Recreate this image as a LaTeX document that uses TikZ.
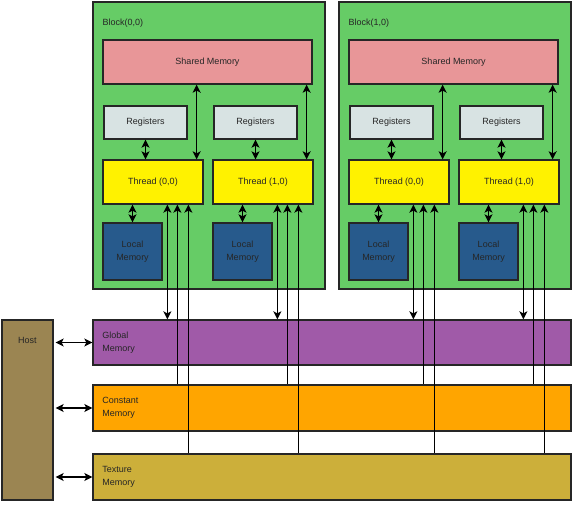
\documentclass[tikz,border=0pt]{standalone}
\usepackage{fontspec}
\setmainfont{Liberation Sans}
\usetikzlibrary{arrows.meta,calc,positioning}
\definecolor{blockgreen}{HTML}{66CC66}
\definecolor{sharedpink}{HTML}{E89698}
\definecolor{regcol}{HTML}{D8E3E3}
\definecolor{localblue}{HTML}{275A8C}
\definecolor{globalcol}{HTML}{A05AA8}
\definecolor{constcol}{HTML}{FFA500}
\definecolor{texcol}{HTML}{CCAF3A}
\definecolor{hostcol}{HTML}{9B8552}
\begin{document}
\begin{tikzpicture}[x=1pt,y=-1pt,line width=1.3pt,>={Stealth[length=8pt,width=8pt,inset=2pt]},
    font=\fontsize{9}{13.5}\selectfont,
    box/.style={draw=black!85,line width=1.3pt,inner sep=0pt,align=center,text=black!85},
    memlabel/.style={align=left,text=black!85}]
  \useasboundingbox (0,0) rectangle (573,510);
  % the two blocks
  \foreach \b in {0,1}{
    \begin{scope}[xshift=246*\b]
      \node[box,fill=blockgreen,minimum width=232,minimum height=287] (blk\b) at (209,145.5) {};
      \node[anchor=west,text=black!85,inner sep=0pt] (blab\b) at (102,23) {Block(\b,0)};
      \node[box,fill=sharedpink,minimum width=209,minimum height=44] (sh\b) at (207.5,62) {Shared Memory};
      \foreach \t in {0,1}{
        \begin{scope}[xshift=110*\t]
          \node[box,fill=regcol,minimum width=83,minimum height=33] (reg\b\t) at (145.5,122.5) {Registers};
          \node[box,fill=yellow,minimum width=100,minimum height=44] (thr\b\t) at (153,182) {Thread (\t,0)};
          \node[box,fill=localblue,minimum width=59,minimum height=57] (loc\b\t) at (132.5,251.5) {Local\\Memory};
        \end{scope}
      }
    \end{scope}
  }
  % memories and host
  \node[box,fill=globalcol,minimum width=478,minimum height=45] (glob) at (332,342.5) {};
  \node[box,fill=constcol,minimum width=478,minimum height=46] (const) at (332,408) {};
  \node[box,fill=texcol,minimum width=478,minimum height=46] (tex) at (332,477) {};
  \node[memlabel,right=6pt of glob.west] {Global\\Memory};
  \node[memlabel,right=6pt of const.west] {Constant\\Memory};
  \node[memlabel,right=6pt of tex.west] {Texture\\Memory};
  \node[box,fill=hostcol,minimum width=51,minimum height=180] (host) at (27.5,410) {};
  \node[text=black!85] at ($(host.north)+(0,21)$) {Host};
  \foreach \m in {glob,const,tex}
    \draw[<->,shorten <=2pt] (host.east |- \m.west) -- (\m.west);
  % connections
  \foreach \b in {0,1}{
    \foreach \t in {0,1}{
      \draw[<->] (reg\b\t.south) -- (reg\b\t.south |- thr\b\t.north);
      \draw[<->] (thr\b\t.south -| loc\b\t.north) -- (loc\b\t.north);
      \coordinate (s\b\t) at ($(thr\b\t.north east)+(-7,0)$);
      \draw[<->] (s\b\t) -- (s\b\t |- sh\b.south);
      \coordinate (g\b\t) at ($(thr\b\t.south west)+(65,0)$);
      \coordinate (c\b\t) at ($(thr\b\t.south west)+(75,0)$);
      \coordinate (x\b\t) at ($(thr\b\t.south west)+(86,0)$);
      \draw[<->] (g\b\t) -- (g\b\t |- glob.north);
      \draw[<-] (c\b\t) -- (c\b\t |- const.north);
      \draw[<-] (x\b\t) -- (x\b\t |- tex.north);
    }
  }
\end{tikzpicture}
\end{document}
